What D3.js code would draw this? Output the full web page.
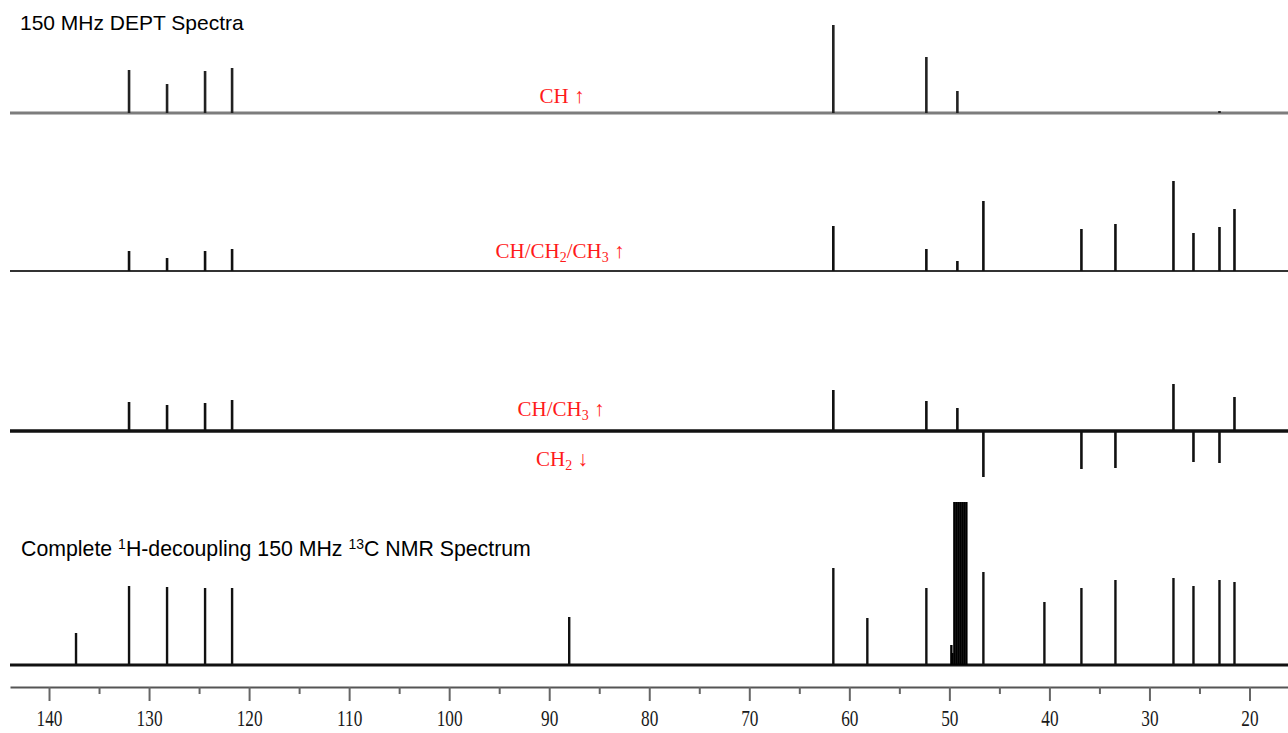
<!DOCTYPE html>
<html>
<head>
<meta charset="utf-8">
<script src="https://cdn.jsdelivr.net/npm/d3@7"></script>
<style>
body { margin: 0; background: #fff; }
svg { display: block; }
</style>
</head>
<body>
<svg id="drawing_region"></svg>
<script>
// axis ticks (ppm)
const major_ticks = [140, 130, 120, 110, 100, 90, 80, 70, 60, 50, 40, 30, 20];
const minor_ticks = [135, 125, 115, 105, 95, 85, 75, 65, 55, 45, 35, 25];

// DEPT-90 : CH up
const ch_shift = [132.0, 128.2, 124.4, 121.7, 61.6, 52.3, 49.2, 23.0];
const ch_int   = [43, 29, 42, 45, 88, 56, 22, 2];

// DEPT-45 : CH/CH2/CH3 up
const all_shift = [132.0, 128.2, 124.4, 121.7, 61.6, 52.3, 49.2, 46.6, 36.8, 33.4, 27.6, 25.6, 23.0, 21.5];
const all_int   = [20, 13, 20, 22, 45, 22, 10, 70, 42, 47, 90, 38, 44, 62];

// DEPT-135 : CH/CH3 up, CH2 down
const d135_shift = [132.0, 128.2, 124.4, 121.7, 61.6, 52.3, 49.2, 46.6, 36.8, 33.4, 27.6, 25.6, 23.0, 21.5];
const d135_int   = [29, 26, 28, 31, 41, 30, 23, -46, -38, -37, 47, -31, -32, 34];

// broadband decoupled 13C
const c13_shift = [137.3, 132.0, 128.2, 124.4, 121.7, 88.0, 61.6, 58.2, 52.3, 46.6, 40.5, 36.8, 33.4, 27.6, 25.6, 23.0, 21.5];
const c13_int   = [32, 79, 78, 77, 77, 48, 97, 47, 77, 93, 63, 77, 85, 87, 79, 85, 83];
// CD3OD solvent septet (clipped off-scale)
const solv_shift = [49.8, 49.7, 49.5, 49.3, 49.1, 48.9, 48.7, 48.5, 48.3];
const solv_int   = [20, 12, 300, 300, 300, 300, 300, 300, 300];

const config = {
    width: 1288,
    height: 733,
    xrange: [10, 1288],
    axis_y: 687
};

const svg = d3.select('#drawing_region')
    .attr('width', config.width)
    .attr('height', config.height);

const xscale = d3.scaleLinear()
    .domain([143.9, 16.15])
    .range(config.xrange);

function trace(base, shifts, ints, opt) {
    const yscale = d3.scaleLinear().domain([0, 100]).range([base, base - 100]);
    const g = svg.append('g');
    if (opt.clip) g.attr('clip-path', 'url(#' + opt.clip + ')');
    g.append('line')
        .attr('x1', config.xrange[0]).attr('x2', config.xrange[1])
        .attr('y1', yscale(0)).attr('y2', yscale(0))
        .attr('stroke', opt.base_color)
        .attr('stroke-width', opt.base_width);
    const peaks = shifts.map((s, i) => ({ s: s, v: ints[i] }));
    g.selectAll('line.peak')
        .data(peaks)
        .enter()
        .append('line')
        .attr('class', 'peak')
        .attr('x1', d => xscale(d.s)).attr('x2', d => xscale(d.s))
        .attr('y1', yscale(0))
        .attr('y2', d => yscale(d.v))
        .attr('stroke', opt.peak_color)
        .attr('stroke-width', opt.peak_width);
    return g;
}

svg.append('clipPath').attr('id', 'clip13')
    .append('rect')
    .attr('x', 0).attr('y', 502).attr('width', config.width).attr('height', 200);

trace(113, ch_shift, ch_int, { base_color: '#7d7d7d', base_width: 3, peak_color: '#222', peak_width: 2.6 });
trace(271, all_shift, all_int, { base_color: '#333', base_width: 2.2, peak_color: '#111', peak_width: 2.6 });
trace(431, d135_shift, d135_int, { base_color: '#111', base_width: 3.4, peak_color: '#111', peak_width: 2.6 });
const g13 = trace(665, c13_shift, c13_int, { base_color: '#111', base_width: 2.8, peak_color: '#111', peak_width: 2.4, clip: 'clip13' });
g13.selectAll('line.solv')
    .data(solv_shift.map((s, i) => ({ s: s, v: solv_int[i] })))
    .enter()
    .append('line')
    .attr('x1', d => xscale(d.s)).attr('x2', d => xscale(d.s))
    .attr('y1', 665)
    .attr('y2', d => 665 - d.v)
    .attr('stroke', '#000')
    .attr('stroke-width', 2.4);

// axis
const xaxis = d3.axisBottom(xscale)
    .tickValues(major_ticks)
    .tickSize(14)
    .tickSizeOuter(0)
    .tickFormat(d3.format('d'));
const xaxis_minor = d3.axisBottom(xscale)
    .tickValues(minor_ticks)
    .tickSize(7)
    .tickSizeOuter(0)
    .tickFormat('');
const axis_group = svg.append('g')
    .attr('transform', `translate(0, ${config.axis_y})`)
    .call(xaxis);
svg.append('g')
    .attr('transform', `translate(0, ${config.axis_y})`)
    .call(xaxis_minor)
    .select('.domain').remove();
axis_group.select('.domain').attr('stroke', '#555').attr('stroke-width', 2.2);
svg.selectAll('.tick line').attr('stroke', '#666').attr('stroke-width', 2);
axis_group.selectAll('.tick text')
    .attr('y', 39)
    .attr('dy', null)
    .attr('transform', 'scale(0.72,1)')
    .style('font-family', '"Liberation Serif", serif')
    .style('font-size', '24px')
    .attr('fill', '#1a1a1a');

// titles
svg.append('text')
    .attr('x', 20).attr('y', 30)
    .style('font-family', '"Liberation Sans", Arial, sans-serif')
    .style('font-size', '21px')
    .text('150 MHz DEPT Spectra');

const t2 = svg.append('text')
    .attr('x', 21).attr('y', 556)
    .style('font-family', '"Liberation Sans", Arial, sans-serif')
    .style('font-size', '21.3px');
t2.append('tspan').text('Complete ');
t2.append('tspan').attr('dy', -7).style('font-size', '14px').text('1');
t2.append('tspan').attr('dy', 7).text('H-decoupling 150 MHz ');
t2.append('tspan').attr('dy', -7).style('font-size', '14px').text('13');
t2.append('tspan').attr('dy', 7).text('C NMR Spectrum');

// red annotations
function red_label(x, y, parts) {
    const t = svg.append('text')
        .attr('x', x).attr('y', y)
        .attr('text-anchor', 'middle')
        .attr('fill', '#ff1a1a')
        .style('font-family', '"Liberation Serif", serif')
        .style('font-size', '21px');
    parts.forEach(p => {
        const ts = t.append('tspan').text(p[0]);
        if (p[1] === 'sub') ts.attr('dy', 4).style('font-size', '14px');
        if (p[1] === 'up') ts.attr('dy', -4);
    });
}
red_label(562, 103, [['CH ↑']]);
red_label(560, 258, [['CH/CH'], ['2', 'sub'], ['/CH', 'up'], ['3', 'sub'], [' ↑', 'up']]);
red_label(561, 416, [['CH/CH'], ['3', 'sub'], [' ↑', 'up']]);
red_label(562, 466, [['CH'], ['2', 'sub'], [' ↓', 'up']]);
</script>
</body>
</html>
